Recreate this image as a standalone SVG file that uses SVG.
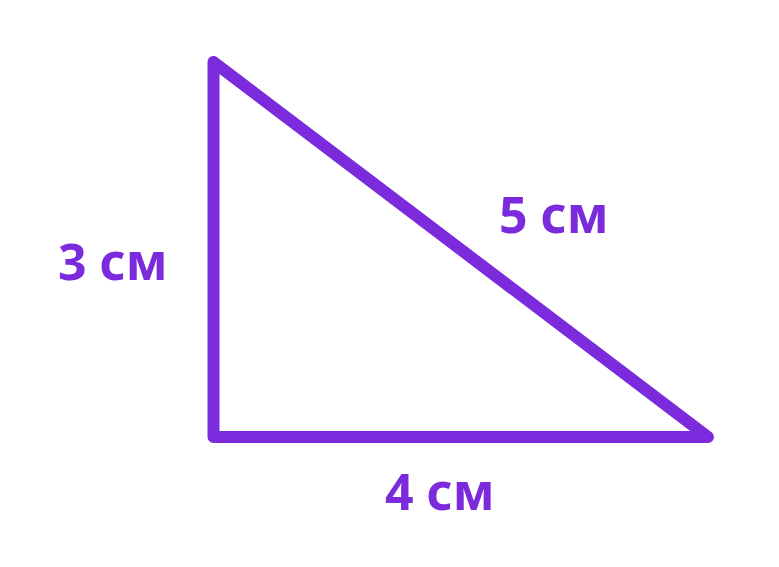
<svg xmlns="http://www.w3.org/2000/svg" width="779" height="567" viewBox="0 0 779 567">
<style>
.edge{fill:none;stroke:#7b2bdc;stroke-width:12;stroke-linejoin:round;stroke-linecap:round}
.lbl{font-family:"Noto Sans","Liberation Sans",sans-serif;font-weight:700;font-size:50px;fill:#7b2bdc}
</style>
<rect width="779" height="567" fill="#ffffff"/>
<g id="connectors">
<path class="edge" d="M213.5,62 L213.5,437 L708,437 Z"/>
</g>
<g id="label-3"><text class="lbl" x="58" y="280">3 см</text></g>
<g id="label-5"><text class="lbl" x="499" y="233">5 см</text></g>
<g id="label-4"><text class="lbl" x="385" y="510">4 см</text></g>
</svg>
